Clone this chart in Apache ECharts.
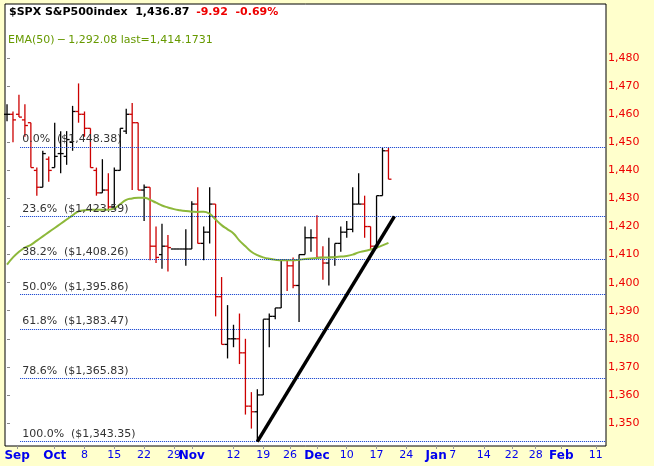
<!DOCTYPE html>
<html><head><meta charset="utf-8">
<script src="https://cdn.jsdelivr.net/npm/echarts@6/dist/echarts.min.js"></script>
<style>html,body{margin:0;padding:0;background:#FFFFCC}#c{width:654px;height:466px}</style>
</head><body><div id="c"></div>
<script>
const opens  = [1460,1460,1460,1458,1457,1440,1434,1444,1441,1446,1445,1450,1461,1460,1455,1440,1432,1433,1427,1440,1454,1460,1457,1433,1434,1413,1410,1413,1412,1412,1412,1412,1428,1414,1418,1428,1395,1378,1380,1380,1375,1356,1354,1360,1387,1388,1391,1408,1406,1399,1410,1416,1416,1409,1407,1409,1414,1418,1419,1428,1428,1420,1413,1431,1447];
const highs  = [1463.6,1461,1467,1463.6,1457,1441,1447,1445,1457,1454,1454,1463,1471,1461,1455,1441,1444,1439,1441,1455,1462,1464,1457,1435,1434,1420,1421,1417,1412,1412,1419,1429,1434,1420,1434,1428,1402,1392,1385,1389,1380,1361,1362,1387,1389,1391,1408,1408,1409,1410,1420,1419,1424,1413,1416,1414,1420,1422,1434,1439,1431,1420,1431,1448,1448];
const lows   = [1457.5,1450,1459,1452,1441,1431,1434,1436,1441,1439,1442,1447,1457,1452,1441,1431,1432,1426,1426,1440,1453,1433,1433,1422,1408,1407,1405,1404,1412,1412,1406,1412,1414,1408,1414,1388,1378,1373,1377,1371,1353,1348,1343.35,1360,1377,1387,1391,1397,1398,1386,1410,1411,1409,1401,1399,1406,1411,1416,1418,1428,1416,1412,1412,1431,1436.87];
const closes = [1460,1458,1459,1456,1441,1434,1446,1440,1445,1446,1451,1461,1460,1455,1441,1432,1433,1427,1440,1455,1460,1457,1433,1434,1413,1409,1413,1412.5,1412,1412,1412,1428,1414,1418,1428,1395,1378,1380,1380,1375,1356,1354,1360,1387,1388,1391,1408,1406,1399,1410,1416,1416,1409,1407,1409,1414,1418,1419,1428,1428,1420,1413,1431,1447,1436.87];
const ema50  = [1406.4,1409,1411,1412.5,1413.5,1415,1416.5,1418,1419.5,1421,1422.5,1424,1425.4,1425.8,1426,1426,1426,1426,1426.5,1428,1429.5,1430,1430.3,1430.3,1429.5,1428.5,1427.5,1426.8,1426.2,1425.8,1425.5,1425.3,1425.2,1425.3,1424.5,1422.5,1420.5,1419,1417.5,1415,1413,1411,1409.8,1409,1408.5,1408.2,1408,1408,1408,1408.2,1408.4,1408.6,1408.8,1409,1409,1409.1,1409.3,1409.5,1410,1410.8,1411.3,1411.8,1412.5,1413.3,1414.2];
const fibPct = ['0.0%','23.6%','38.2%','50.0%','61.8%','78.6%','100.0%'];
const fibVal = [1448.38,1423.59,1408.26,1395.86,1383.47,1365.83,1343.35];
const trendFrom = [42,1343.35], trendTo = [65,1423.6];
const xLabelPos = [1.7,8,13,18,23,28,31,38,43,47.5,52,57,62,67,72,74.8,80,84.7,88.7,93,98.8];
const xLabelTxt = ['Sep','Oct','8','15','22','29','Nov','12','19','26','Dec','10','17','24','Jan','7','14','22','28','Feb','11'];
const yTicks = [1350,1360,1370,1380,1390,1400,1410,1420,1430,1440,1450,1460,1470,1480];

const months = new Set(['Sep','Oct','Nov','Dec','Jan','Feb']);
const ohlc = opens.map((o,i)=>[i,o,highs[i],lows[i],closes[i]]);
const chart = echarts.init(document.getElementById('c'));
const F = 'DejaVu Sans';
chart.setOption({
  animation:false,
  backgroundColor:'#FFFFCC',
  grid:{left:5,right:48,top:4,bottom:20,show:true,backgroundColor:'#fff',borderColor:'#000',borderWidth:1},
  xAxis:{type:'value',min:-0.34,max:100.5,
    axisLine:{show:false},splitLine:{show:false},
    axisTick:{show:true,length:3,lineStyle:{color:'#999'},customValues:xLabelPos},
    axisLabel:{customValues:xLabelPos,margin:4,color:'#0000ee',fontFamily:F,fontSize:11,
      formatter:v=>{const k=xLabelPos.findIndex(p=>Math.abs(p-v)<1e-6);const t=xLabelTxt[k]||'';return months.has(t)?'{b|'+t+'}':t;},
      rich:{b:{fontWeight:'bold',fontSize:12,color:'#0000ee',fontFamily:F}}}},
  yAxis:{type:'value',position:'right',min:1341.8,max:1499.3,
    axisLine:{show:false},splitLine:{show:false},
    axisTick:{show:true,length:3,lineStyle:{color:'#888'},customValues:yTicks},
    axisLabel:{customValues:yTicks,color:'#ee0000',fontFamily:F,fontSize:11,margin:2,formatter:v=>v.toLocaleString('en-US')}},
  graphic:[
    {type:'text',left:9,top:6,style:{rich:{a:{fill:'#000',fontWeight:'bold',fontSize:11,fontFamily:F},r:{fill:'#ee0000',fontWeight:'bold',fontSize:11,fontFamily:F}},
      text:'{a|$SPX S&P500index  1,436.87}  {r|-9.92  -0.69%}'}},
    {type:'text',left:8,top:35,style:{text:'EMA(50) ─ 1,292.08 last=1,414.1731',fill:'#669900',fontSize:11,fontFamily:F}}
  ],
  series:[
    {type:'custom',data:ohlc,encode:{x:0,y:[1,2,3,4]},z:3,
      renderItem:(p,api)=>{
        const i=api.value(0),o=api.value(1),h=api.value(2),l=api.value(3),c=api.value(4);
        const col=c<o?'#cc0000':'#000';
        const ph=api.coord([i,h]),pl=api.coord([i,l]),po=api.coord([i,o]),pc=api.coord([i,c]);
        const st={stroke:col,lineWidth:1.3};
        return {type:'group',children:[
          {type:'line',shape:{x1:ph[0],y1:ph[1],x2:pl[0],y2:pl[1]},style:st},
          {type:'line',shape:{x1:po[0]-3,y1:po[1],x2:po[0],y2:po[1]},style:st},
          {type:'line',shape:{x1:pc[0],y1:pc[1],x2:pc[0]+3,y2:pc[1]},style:st}]};
      }},
    {type:'line',data:ema50.map((v,i)=>[i,v]),showSymbol:false,smooth:true,z:4,lineStyle:{color:'#8db83a',width:2}},
    {type:'line',data:[],z:2,silent:true,
      markLine:{symbol:'none',silent:true,
        lineStyle:{type:'dotted',color:'#0033cc',width:1},
        label:{position:'insideStartTop',color:'#333',fontSize:11,fontFamily:F,distance:[2,2]},
        data:fibVal.map((v,k)=>[{coord:[2.2,v],label:{formatter:fibPct[k]+'  ($'+v.toLocaleString('en-US',{minimumFractionDigits:2})+')'}},{coord:[100.5,v]}])}},
    {type:'line',data:[trendFrom,trendTo],showSymbol:false,z:5,lineStyle:{color:'#000',width:3.5}}
  ]
});
</script></body></html>
